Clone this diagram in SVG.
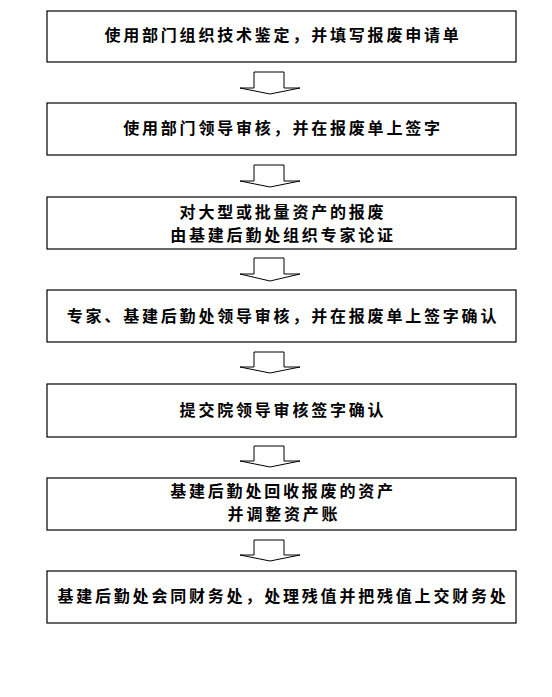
<svg xmlns="http://www.w3.org/2000/svg" width="552" height="697" viewBox="0 0 552 697">
<style>
.box{fill:#fff;stroke:#000;stroke-width:1.2}
.arr{fill:#fff;stroke:#000;stroke-width:1}
.t{font-family:"Noto Sans CJK SC","Noto Sans CJK TC",sans-serif;font-weight:bold;font-size:16px;letter-spacing:2.8px;text-anchor:middle;fill:#000}
</style>
<rect width="552" height="697" fill="#fff"/>
<g id="connectors">
<polygon class="arr" points="254,72 284,72 284,88 300,88 270,94 240,88 254,88"/>
<polygon class="arr" points="254,165 284,165 284,181 300,181 270,187 240,181 254,181"/>
<polygon class="arr" points="254,258 284,258 284,274 300,274 270,281 240,274 254,274"/>
<polygon class="arr" points="254,352 284,352 284,367 300,367 270,373 240,367 254,367"/>
<polygon class="arr" points="254,446 284,446 284,461 300,461 270,467 240,461 254,461"/>
<polygon class="arr" points="254,540 284,540 284,555 300,555 270,561 240,555 254,555"/>
</g>
<g id="n1"><rect class="box" x="47" y="11" width="469" height="51"/><text class="t" x="283" y="41">使用部门组织技术鉴定，并填写报废申请单</text></g>
<g id="n2"><rect class="box" x="47" y="103" width="469" height="52"/><text class="t" x="283" y="134">使用部门领导审核，并在报废单上签字</text></g>
<g id="n3"><rect class="box" x="47" y="197" width="469" height="52"/><text class="t" x="283" y="217.5">对大型或批量资产的报废</text><text class="t" x="283" y="240.5">由基建后勤处组织专家论证</text></g>
<g id="n4"><rect class="box" x="47" y="290" width="469" height="52"/><text class="t" x="283" y="322">专家、基建后勤处领导审核，并在报废单上签字确认</text></g>
<g id="n5"><rect class="box" x="47" y="384" width="469" height="53"/><text class="t" x="283" y="416">提交院领导审核签字确认</text></g>
<g id="n6"><rect class="box" x="47" y="478" width="469" height="52"/><text class="t" x="283" y="496.5">基建后勤处回收报废的资产</text><text class="t" x="284" y="520">并调整资产账</text></g>
<g id="n7"><rect class="box" x="47" y="571" width="469" height="52"/><text class="t" x="283" y="602">基建后勤处会同财务处，处理残值并把残值上交财务处</text></g>
</svg>
